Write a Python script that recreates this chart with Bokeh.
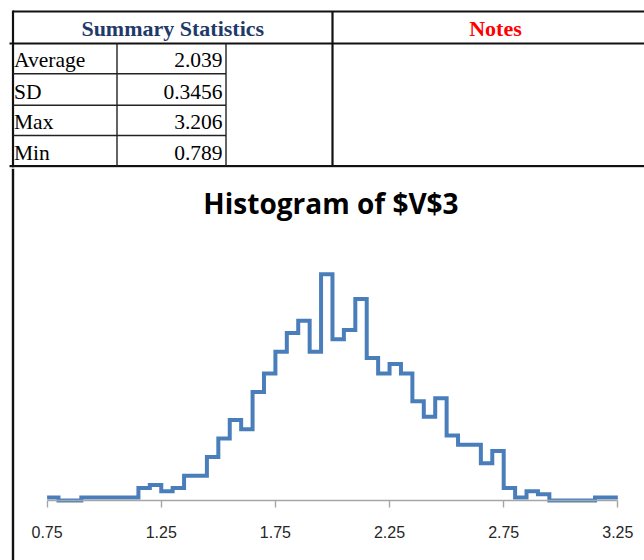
from bokeh.plotting import figure
from bokeh.layouts import column
from bokeh.models import Range1d, Label, Span, FixedTicker, ColumnDataSource
from bokeh.embed import file_html
from bokeh.resources import INLINE
from bokeh.core.properties import value

# ---------------- data ----------------
table_title = "Summary Statistics"
notes_title = "Notes"
stat_names = ["Average", "SD", "Max", "Min"]
stat_values = ["2.039", "0.3456", "3.206", "0.789"]

chart_title = "Histogram of $V$3"
bin_start = 0.75
bin_width = 0.05
counts = [1, 0, 0, 1, 1, 1, 1, 1, 4, 5, 3, 4, 8, 8, 14, 20, 26, 23, 35, 41,
          48, 54, 58, 48, 73, 52, 55, 65, 46, 41, 44, 41, 32, 27, 33, 21, 18, 18, 12, 16,
          4, 1, 3, 2, 0, 0, 0, 0, 1, 1]
tick_values = [0.75, 1.25, 1.75, 2.25, 2.75, 3.25]

# ---------------- layout constants (page pixels) ----------------
PAGE_W, PAGE_H = 644, 560
W = PAGE_W
SPLIT = 168                      # page y where table ends / chart begins
SERIF = "Liberation Serif"
SANS = "Liberation Sans"
BASE_K = 0.35                    # alphabetic baseline correction (fraction of font size)

# ---------------- table figure ----------------
tbl = figure(width=W, height=SPLIT, x_range=Range1d(0, PAGE_W),
             y_range=Range1d(SPLIT, 0), output_backend="svg", toolbar_location=None,
             min_border=0, x_axis_location=None, y_axis_location=None,
             outline_line_color=None, background_fill_color="white", border_fill_color="white")
tbl.grid.visible = False

left_x, mid_x, c1_x, c2_x = 12.5, 332, 116.5, 225.5
top_y, head_y, bot_y = 11, 43, 165.5
row_lines = [73.3, 104.8, 135]
row_bottoms = row_lines + [bot_y]

# thick frame lines
tbl.segment(x0=[left_x, left_x, mid_x, 9, 9], y0=[top_y, top_y - 1, top_y, head_y, bot_y],
            x1=[PAGE_W, left_x, mid_x, PAGE_W, PAGE_W], y1=[top_y, SPLIT, bot_y + 1, head_y, bot_y],
            line_color="#111111", line_width=2.2)
tbl.segment(x0=[9], y0=[167.4], x1=[PAGE_W], y1=[167.4], line_color="#c4c4c4", line_width=1.5)
# thin cell lines
tbl.segment(x0=[left_x] * 3 + [c1_x, c2_x], y0=row_lines + [head_y, head_y],
            x1=[c2_x] * 3 + [c1_x, c2_x], y1=row_lines + [bot_y, bot_y],
            line_color="#222222", line_width=1.4)

HEAD_FS, CELL_FS = 22, 21.5
tbl.text(x=[(left_x + mid_x) / 2], y=[36 - BASE_K * HEAD_FS], text=[table_title],
         text_align="center", text_baseline="alphabetic", text_font=value(SERIF),
         text_font_style="bold", text_font_size=f"{HEAD_FS}px", text_color="#1f3a68")
tbl.text(x=[495], y=[36 - BASE_K * HEAD_FS], text=[notes_title], text_align="center",
         text_baseline="alphabetic", text_font=value(SERIF), text_font_style="bold",
         text_font_size=f"{HEAD_FS}px", text_color="#ff0000")
baselines = [b - 5.8 - BASE_K * CELL_FS for b in row_bottoms]
tbl.text(x=[13.5] * 4, y=baselines, text=stat_names, text_align="left",
         text_baseline="alphabetic", text_font=value(SERIF), text_font_size=f"{CELL_FS}px",
         text_color="black")
tbl.text(x=[222] * 4, y=baselines, text=stat_values, text_align="right",
         text_baseline="alphabetic", text_font=value(SERIF), text_font_size=f"{CELL_FS}px",
         text_color="black")

# ---------------- histogram figure ----------------
PPU = 228.3          # pixels per x unit
PPC = 3.1            # pixels per count
X0_PAGE = 46.6       # page x of first bin edge
AXIS_PAGE_Y = 500    # page y of zero line
CH_H = PAGE_H - SPLIT

x_lo = bin_start - X0_PAGE / PPU
x_hi = bin_start + (PAGE_W - X0_PAGE) / PPU
y_lo = -(PAGE_H - AXIS_PAGE_Y) / PPC
y_hi = (AXIS_PAGE_Y - SPLIT) / PPC

ch = figure(width=W, height=CH_H, x_range=Range1d(x_lo, x_hi), y_range=Range1d(y_lo, y_hi),
            output_backend="svg", toolbar_location=None, min_border=0,
            y_axis_location=None, outline_line_color=None,
            background_fill_color="white", border_fill_color="white")
ch.grid.visible = False

edges = [round(bin_start + i * bin_width, 4) for i in range(len(counts) + 1)]
src = ColumnDataSource(dict(x=edges, y=counts + [counts[-1]]))
ch.step(x="x", y="y", source=src, mode="after", line_color="#4a7ebb", line_width=4,
        line_join="miter")

ax = ch.xaxis[0]
ax.fixed_location = 0
ax.bounds = (tick_values[0], tick_values[-1])
ax.ticker = FixedTicker(ticks=tick_values)
ax.major_label_overrides = {t: f"{t:.2f}" for t in tick_values}
ax.axis_line_color = "#a6a6a6"
ax.axis_line_width = 1.6
ax.major_tick_line_color = "#a6a6a6"
ax.major_tick_line_width = 1.4
ax.major_tick_in = 0
ax.major_tick_out = 7
ax.minor_tick_line_color = None
ax.major_label_text_font = SANS
ax.major_label_text_font_size = "16px"
ax.major_label_text_color = "#262626"
ax.major_label_standoff = 18

ch.add_layout(Span(location=x_lo + left_x / PPU, dimension="height",
                   line_color="#111111", line_width=2.4))
TITLE_FS = 28
ch.add_layout(Label(x=330.5, y=PAGE_H - (212 - BASE_K * TITLE_FS), x_units="screen",
                    y_units="screen", text=chart_title, text_align="center",
                    text_baseline="alphabetic", text_font="Open Sans", text_font_style="bold",
                    text_font_size=f"{TITLE_FS}px", text_color="black"))

layout = column(tbl, ch)
open("out.html", "w").write(file_html(layout, INLINE))
